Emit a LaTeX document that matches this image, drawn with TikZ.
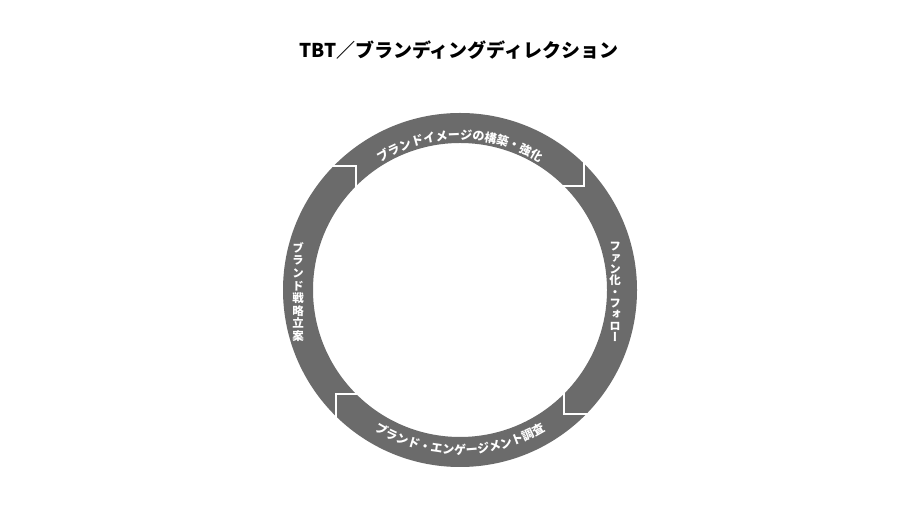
\documentclass[tikz,border=0pt]{standalone}
\usepackage{fontspec}
\usepackage{graphicx}
\usetikzlibrary{calc,decorations.text}
\newfontfamily\cjk{Noto Sans CJK JP}
\newfontfamily\cjkv{Noto Sans CJK JP}[RawFeature=+vert]
\definecolor{ringgray}{HTML}{6B6B6B}
\tikzset{
	notch/.style={white, line width=1.6pt},
	vlabel/.style={text=white, align=center, inner sep=0pt, font=\cjkv\bfseries\fontsize{11.5}{12.6}\selectfont},
	arclabel/.style={decorate, decoration={text along path, text align=center, text color=white, text={|\cjk\bfseries\fontsize{12}{12}\selectfont|#1}}}
}
\begin{document}
\begin{tikzpicture}[x=1pt,y=1pt]
		\fill[white] (0,0) rectangle (920,521);
		\coordinate (centre) at (460,231);
		\node[font=\cjk\bfseries\fontsize{19}{19}\selectfont] (title) at (459,471) {TBT／ブランディングディレクション};
		
		\fill[ringgray, even odd rule] (centre) circle[radius=177] (centre) circle[radius=147];
		\foreach \a in {130,40,-50,-140}
			\draw[notch] ($(centre)+(\a:162)+(\a+50:30)$) -- ($(centre)+(\a:162)$) -- ++(\a+140:30);
		
		\path[arclabel={ブランドイメージの構築・強化}] ($(centre)+(125:150.5)$) arc[start angle=125, end angle=55, radius=150.5];
		\path[arclabel={ブランド・エンゲージメント調査}] ($(centre)+(-125:164.5)$) arc[start angle=-125, end angle=-55, radius=164.5];
		\node[vlabel] (strategy) at (298,229) {ブ\\ラ\\ン\\ド\\戦\\略\\立\\案};
		\node[vlabel, font=\cjkv\bfseries\fontsize{11.5}{11.3}\selectfont] (fanfollow) at (615,229) {フ\\ァ\\ン\\化\\・\\フ\\ォ\\ロ\\ー};
	\end{tikzpicture}
\end{document}
